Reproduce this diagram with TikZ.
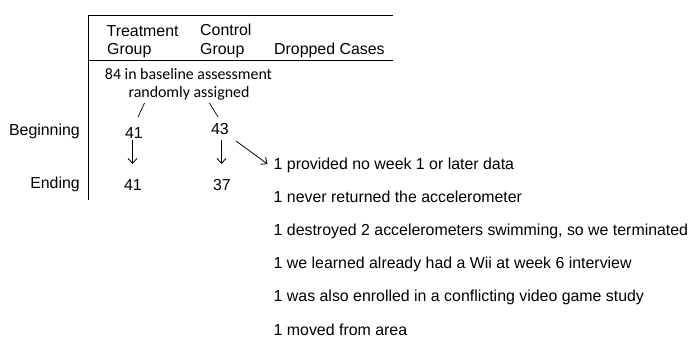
\documentclass[tikz,border=0pt]{standalone}
\usepackage{fontspec}
\setmainfont{Liberation Sans}
\newfontfamily\calib{Carlito}
\usetikzlibrary{arrows.meta}
\begin{document}
\begin{tikzpicture}[x=1pt,y=-1pt,
  lbl/.style={font=\fontsize{15.9}{18}\selectfont, inner sep=0pt},
  cal/.style={font=\calib\fontsize{15.9}{18}\selectfont, inner sep=0pt},
  arr/.style={-{Straight Barb[length=5pt,width=9pt]}, line width=0.8pt},
  thin/.style={line width=0.7pt},
  rulel/.style={line width=0.9pt}]
\useasboundingbox (0,0) rectangle (689,340);
% table rules
\coordinate (tl) at (88.5,15);
\coordinate (tr) at (393,15);
\coordinate (ml) at (88.5,60);
\coordinate (mr) at (393,60);
\coordinate (bl) at (88.5,200);
\draw[rulel] (tl) -- (tr);
\draw[rulel] (ml) -- (mr);
\draw[rulel] (tl) -- (bl);
% headers
\node[lbl, anchor=base west] (h1a) at (106.5,36) {Treatment};
\node[lbl, anchor=base west] (h1b) at (107,54) {Group};
\node[lbl, anchor=base west] (h2a) at (200,35) {Control};
\node[lbl, anchor=base west] (h2b) at (200,54) {Group};
\node[lbl, anchor=base west] (h3) at (274,54) {Dropped Cases};
% baseline
\node[cal, anchor=base] (base1) at (188.5,79) {84 in baseline assessment};
\node[cal, anchor=base] (base2) at (189,97) {randomly assigned};
% row labels
\node[lbl, anchor=base east] (beg) at (80,135) {Beginning};
\node[lbl, anchor=base east] (end) at (80,188) {Ending};
% numbers
\node[lbl, anchor=base] (t41) at (134,138) {41};
\node[lbl, anchor=base] (c43) at (220,134) {43};
\node[lbl, anchor=base] (t41e) at (133,190) {41};
\node[lbl, anchor=base] (c37) at (222,190) {37};
% dropped cases
\node[lbl, anchor=base west] (d1) at (273.5,169) {1 provided no week 1 or later data};
\node[lbl, anchor=base west] (d2) at (273.5,202.2) {1 never returned the accelerometer};
\node[lbl, anchor=base west] (d3) at (273.5,235.4) {1 destroyed 2 accelerometers swimming, so we terminated};
\node[lbl, anchor=base west] (d4) at (273.5,268.6) {1 we learned already had a Wii at week 6 interview};
\node[lbl, anchor=base west] (d5) at (273.5,301.8) {1 was also enrolled in a conflicting video game study};
\node[lbl, anchor=base west] (d6) at (273.5,335) {1 moved from area};
% connectors
\coordinate (s1a) at (144.5,103);
\coordinate (s1b) at (138,117);
\coordinate (s2a) at (209.5,103);
\coordinate (s2b) at (218,117);
\draw[thin] (s1a) -- (s1b);
\draw[thin] (s2a) -- (s2b);
\coordinate (a1a) at (132.5,140);
\coordinate (a1b) at (132.5,164);
\coordinate (a2a) at (221.5,140);
\coordinate (a2b) at (221.5,164);
\coordinate (a3a) at (236,141);
\coordinate (a3b) at (267.5,164);
\draw[arr] (a1a) -- (a1b);
\draw[arr] (a2a) -- (a2b);
\draw[arr] (a3a) -- (a3b);
\end{tikzpicture}
\end{document}
